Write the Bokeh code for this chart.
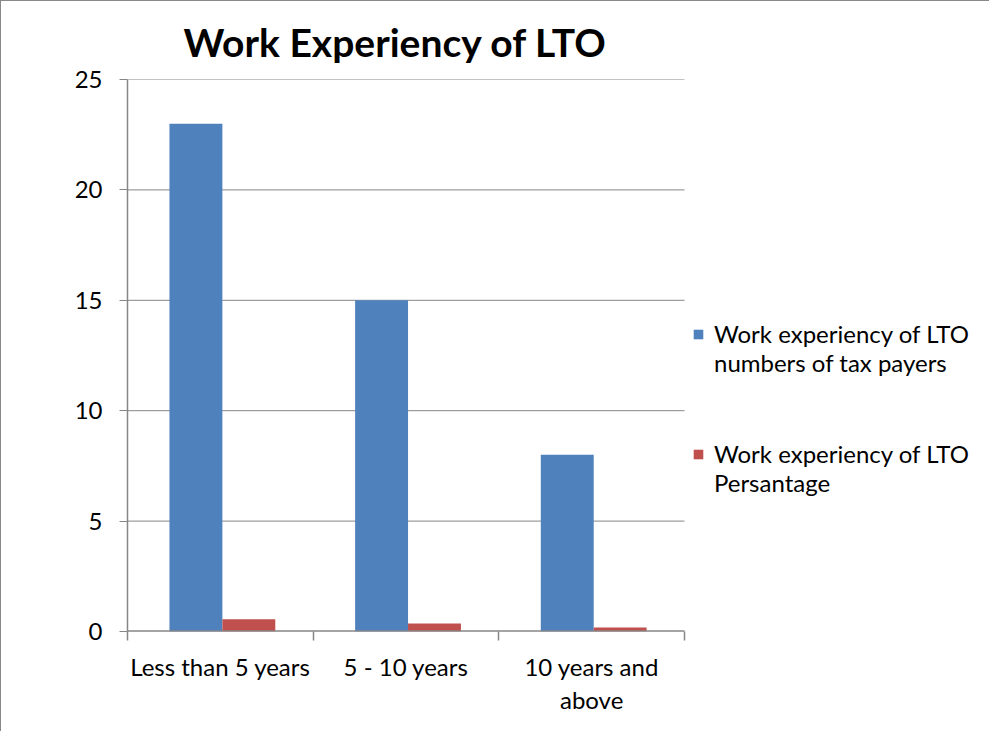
from bokeh.plotting import figure
from bokeh.models import (FixedTicker, Legend, LegendItem, Range1d, Title)
from bokeh.embed import file_html
from bokeh.resources import INLINE

categories = ["Less than 5 years", "5 - 10 years", "10 years and\nabove"]
taxpayers = [23, 15, 8]
percentage = [0.56, 0.36, 0.18]
y_ticks = [0, 5, 10, 15, 20, 25]
series_names = ["Work experiency of LTO\nnumbers of tax payers",
                "Work experiency of LTO\nPersantage"]

BLUE = "#4F81BD"
RED = "#C0504D"
GRID = "#868686"
FONT = "Lato"
FS = "24px"

n = len(categories)
AXIS_PX = 557          # pixel length of the category axis
FRAME_W = 860          # frame also hosts the legend to its right
bw = 0.285
shift = 0.011
centers = [i + 0.5 for i in range(n)]

p = figure(frame_width=FRAME_W, frame_height=552, output_backend="svg",
           toolbar_location=None,
           x_range=Range1d(0, n * FRAME_W / AXIS_PX), y_range=Range1d(0, 25),
           min_border_left=126, min_border_right=2,
           min_border_top=78, min_border_bottom=100)
p.styles = {"border-top": "1px solid #888888", "border-left": "1px solid #888888"}
p.outline_line_color = None
p.background_fill_color = "white"

# horizontal gridlines limited to the category span
p.segment(x0=[0] * len(y_ticks), x1=[n] * len(y_ticks), y0=y_ticks, y1=y_ticks,
          line_color=GRID, line_width=1)

r1 = p.vbar(x=[c - bw / 2 + shift for c in centers], top=taxpayers, width=bw,
            fill_color=BLUE, line_color=None)
r2 = p.vbar(x=[c + bw / 2 + shift for c in centers], top=percentage, width=bw,
            fill_color=RED, line_color=None)

# category axis baseline
p.segment(x0=[0], x1=[n], y0=[0], y1=[0], line_color=GRID, line_width=2.5)

t = Title(text="Work Experiency of LTO", align="left", offset=56, text_font=FONT,
          text_font_size="39px", text_font_style="bold", text_color="black",
          standoff=29)
p.add_layout(t, "above")

# x axis
xa = p.xaxis[0]
xa.ticker = FixedTicker(ticks=centers, minor_ticks=list(range(n + 1)))
xa.major_label_overrides = {c: lab for c, lab in zip(centers, categories)}
xa.major_tick_line_color = None
xa.major_tick_out = 6
xa.minor_tick_line_color = GRID
xa.minor_tick_line_width = 1.5
xa.minor_tick_out = 9
xa.minor_tick_in = 0
xa.axis_line_color = None
xa.major_label_text_font = FONT
xa.major_label_text_font_size = FS
xa.major_label_text_line_height = 1.14
xa.major_label_text_color = "black"
xa.major_label_standoff = 11

ya = p.yaxis[0]
ya.ticker = FixedTicker(ticks=y_ticks)
ya.axis_line_color = GRID
ya.axis_line_width = 1.5
ya.major_tick_line_color = GRID
ya.major_tick_out = 8
ya.major_tick_in = 0
ya.minor_tick_line_color = None
ya.major_label_text_font = FONT
ya.major_label_text_font_size = FS
ya.major_label_text_color = "black"
ya.major_label_standoff = 17

p.xgrid.grid_line_color = None
p.ygrid.grid_line_color = None

# leading blank line keeps each swatch level with its label's first line
legend = Legend(items=[LegendItem(label="\n" + series_names[0], renderers=[r1]),
                       LegendItem(label="\n" + series_names[1], renderers=[r2])],
                location=(565, 134), orientation="vertical",
                label_text_font=FONT, label_text_font_size=FS,
                label_text_color="black", glyph_width=12, glyph_height=12,
                spacing=33, padding=0, margin=0, border_line_color=None,
                label_standoff=10, background_fill_alpha=0)
p.add_layout(legend, "center")

open("out.html", "w").write(file_html(p, INLINE))
